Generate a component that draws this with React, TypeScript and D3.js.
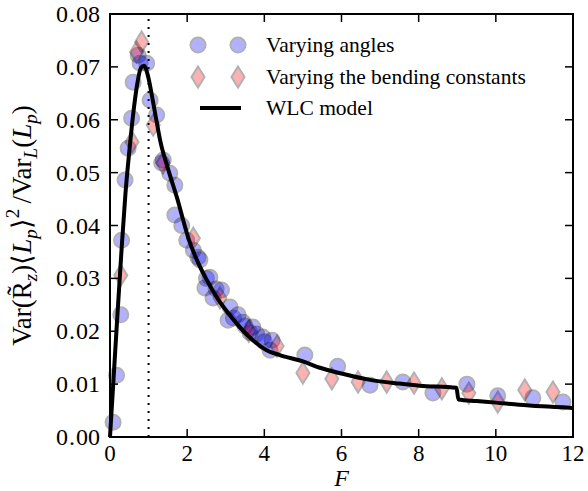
import * as d3 from 'd3';
import { useEffect, useRef } from 'react';

// WLC model curve
const WLC_F = [0, 0.1, 0.2, 0.3, 0.4, 0.5, 0.6, 0.7, 0.8, 0.88, 1.0, 1.1, 1.2, 1.3, 1.5, 1.73, 2.05, 2.25, 2.5, 2.76, 3.2, 3.6, 4.06, 4.4, 5.0, 5.44, 6.0, 6.74, 7.5, 8.03, 8.98, 9.03, 9.5, 10.0, 10.6, 11.2, 12.0];
const WLC_V = [0, 0.012, 0.024, 0.0355, 0.046, 0.054, 0.061, 0.0665, 0.0698, 0.0702, 0.0678, 0.064, 0.0600, 0.0561, 0.0508, 0.0454, 0.0372, 0.0335, 0.0298, 0.0265, 0.0222, 0.0190, 0.0164, 0.0155, 0.0143, 0.0131, 0.0120, 0.0108, 0.0101, 0.0097, 0.0093, 0.0071, 0.0068, 0.0065, 0.0061, 0.0058, 0.0055];

// "Varying angles" points
const ANG_F = [0.08, 0.17, 0.28, 0.30, 0.39, 0.47, 0.56, 0.60, 0.73, 0.78, 0.95, 1.04, 1.21, 1.34, 1.38, 1.55, 1.68, 1.68, 1.86, 1.99, 2.16, 2.28, 2.33, 2.46, 2.5, 2.59, 2.67, 2.75, 2.89, 3.06, 3.11, 3.2, 3.32, 3.45, 3.5, 3.63, 3.70, 3.8, 3.96, 4.0, 4.15, 4.20, 5.05, 5.90, 6.74, 7.59, 8.37, 9.25, 10.05, 10.96, 11.74];
const ANG_V = [0.0028, 0.0117, 0.0231, 0.0372, 0.0486, 0.0546, 0.0603, 0.0671, 0.0722, 0.0707, 0.0707, 0.0637, 0.0609, 0.0518, 0.0524, 0.0499, 0.0476, 0.0420, 0.0400, 0.0372, 0.0353, 0.0340, 0.0335, 0.0282, 0.0300, 0.0302, 0.0263, 0.0280, 0.0278, 0.0221, 0.0246, 0.0225, 0.0231, 0.0217, 0.0210, 0.0197, 0.0208, 0.0195, 0.0189, 0.0180, 0.0164, 0.0183, 0.0155, 0.0134, 0.0098, 0.0104, 0.0083, 0.0100, 0.0078, 0.0074, 0.0066];

// "Varying the bending constants" points
const BEND_F = [0.28, 0.57, 0.69, 0.82, 1.12, 1.37, 2.16, 2.85, 3.6, 4.33, 5.0, 5.75, 6.43, 7.17, 7.88, 8.60, 9.30, 10.05, 10.75, 11.48];
const BEND_V = [0.0306, 0.0558, 0.0728, 0.0747, 0.0590, 0.0518, 0.0376, 0.0263, 0.0200, 0.0172, 0.0121, 0.0110, 0.0104, 0.0104, 0.0102, 0.0091, 0.0083, 0.0066, 0.0089, 0.0085];

const X_TICKS = [0, 2, 4, 6, 8, 10, 12];
const Y_TICKS = [0, 0.01, 0.02, 0.03, 0.04, 0.05, 0.06, 0.07, 0.08];
const LEGEND = ['Varying angles', 'Varying the bending constants', 'WLC model'];

const W = 588, H = 491;
const M = { left: 110, right: 573, top: 14, bottom: 437 };
const FONT = "'Liberation Serif', 'Times New Roman', serif";

function diamond(cx: number, cy: number, w = 6.5, h = 10.5) {
  return `M${cx},${cy - h}L${cx + w},${cy}L${cx},${cy + h}L${cx - w},${cy}Z`;
}

export default function App() {
  const ref = useRef<SVGSVGElement>(null);

  useEffect(() => {
    const svg = d3.select(ref.current);
    svg.selectAll('*').remove();

    const x = d3.scaleLinear().domain([0, 12]).range([M.left, M.right]);
    const y = d3.scaleLinear().domain([0, 0.08]).range([M.bottom, M.top]);

    svg.append('rect').attr('width', W).attr('height', H).attr('fill', 'white');

    // dotted line at F = 1
    svg.append('line')
      .attr('x1', x(1)).attr('x2', x(1)).attr('y1', y(0)).attr('y2', y(0.08))
      .attr('stroke', 'black').attr('stroke-width', 2).attr('stroke-dasharray', '2,6');

    // circles
    svg.append('g').selectAll('circle').data(d3.range(ANG_F.length)).join('circle')
      .attr('cx', i => x(ANG_F[i])).attr('cy', i => y(ANG_V[i])).attr('r', 7.5)
      .attr('fill', 'blue').attr('stroke', 'black').attr('stroke-width', 2)
      .attr('opacity', 0.3);

    // diamonds
    svg.append('g').selectAll('path').data(d3.range(BEND_F.length)).join('path')
      .attr('d', i => diamond(x(BEND_F[i]), y(BEND_V[i])))
      .attr('fill', 'red').attr('stroke', 'black').attr('stroke-width', 2)
      .attr('opacity', 0.3);

    // WLC curve
    const line = d3.line<number>()
      .x(i => x(WLC_F[i])).y(i => y(WLC_V[i]))
      .curve(d3.curveMonotoneX);
    svg.append('path').attr('d', line(d3.range(WLC_F.length)))
      .attr('fill', 'none').attr('stroke', 'black').attr('stroke-width', 4)
      .attr('stroke-linejoin', 'round');

    // frame
    svg.append('rect')
      .attr('x', M.left).attr('y', M.top)
      .attr('width', M.right - M.left).attr('height', M.bottom - M.top)
      .attr('fill', 'none').attr('stroke', 'black').attr('stroke-width', 2);

    // ticks (inward, all four sides)
    const tl = 8;
    const tg = svg.append('g').attr('stroke', 'black').attr('stroke-width', 1.5);
    X_TICKS.forEach(t => {
      tg.append('line').attr('x1', x(t)).attr('x2', x(t)).attr('y1', M.bottom).attr('y2', M.bottom - tl);
      tg.append('line').attr('x1', x(t)).attr('x2', x(t)).attr('y1', M.top).attr('y2', M.top + tl);
    });
    Y_TICKS.forEach(t => {
      tg.append('line').attr('x1', M.left).attr('x2', M.left + tl).attr('y1', y(t)).attr('y2', y(t));
      tg.append('line').attr('x1', M.right).attr('x2', M.right - tl).attr('y1', y(t)).attr('y2', y(t));
    });

    const txt = svg.append('g').attr('font-family', FONT).attr('font-size', 23).attr('fill', 'black');
    X_TICKS.forEach(t => {
      txt.append('text').attr('x', x(t)).attr('y', M.bottom + 24).attr('text-anchor', 'middle').text(t);
    });
    Y_TICKS.forEach(t => {
      const s = d3.format('.2f')(t).split('.');
      const el = txt.append('text').attr('x', M.left - 10).attr('y', y(t) + 8)
        .attr('text-anchor', 'end').attr('font-size', 24);
      el.append('tspan').text(s[0]);
      el.append('tspan').attr('dx', 1).text('.');
      el.append('tspan').attr('dx', 1).text(s[1]);
    });

    // x label
    txt.append('text').attr('x', x(6)).attr('y', M.bottom + 49).attr('text-anchor', 'middle')
      .attr('font-size', 24).attr('font-style', 'italic').text('F');

    // y label
    const big = 27, small = 19;
    const yl = txt.append('text')
      .attr('font-size', big)
      .attr('transform', `translate(31,${(M.top + M.bottom) / 2}) rotate(-90)`)
      .attr('text-anchor', 'middle');
    yl.append('tspan').text('Var(R\u0303');
    yl.append('tspan').attr('font-size', small).attr('font-style', 'italic').attr('dy', 6).text('z');
    yl.append('tspan').attr('dy', -6).text(')\u27e8');
    yl.append('tspan').attr('font-style', 'italic').text('L');
    yl.append('tspan').attr('font-size', small).attr('font-style', 'italic').attr('dy', 6).text('p');
    yl.append('tspan').attr('dy', -6).text('\u27e9');
    yl.append('tspan').attr('font-size', small).attr('dy', -12).text('2');
    yl.append('tspan').attr('dy', 12).text('\u2009/Var');
    yl.append('tspan').attr('font-size', small).attr('font-style', 'italic').attr('dy', 6).text('L');
    yl.append('tspan').attr('dy', -6).text('(');
    yl.append('tspan').attr('font-style', 'italic').text('L');
    yl.append('tspan').attr('font-size', small).attr('font-style', 'italic').attr('dy', 6).text('p');
    yl.append('tspan').attr('dy', -6).text(')');

    // legend
    const lg = svg.append('g');
    const rows = [45, 77, 108];
    [198, 238].forEach(cx => {
      lg.append('circle').attr('cx', cx).attr('cy', rows[0]).attr('r', 7.5)
        .attr('fill', 'blue').attr('stroke', 'black').attr('stroke-width', 2).attr('opacity', 0.3);
      lg.append('path').attr('d', diamond(cx, rows[1]))
        .attr('fill', 'red').attr('stroke', 'black').attr('stroke-width', 2).attr('opacity', 0.3);
    });
    lg.append('line').attr('x1', 200).attr('x2', 241).attr('y1', rows[2]).attr('y2', rows[2])
      .attr('stroke', 'black').attr('stroke-width', 4);
    LEGEND.forEach((s, i) => {
      lg.append('text').attr('x', 266).attr('y', rows[i] + 7)
        .attr('font-family', FONT).attr('font-size', 21.5).text(s);
    });
  }, []);

  return (
    <svg ref={ref} width={W} height={H} style={{ display: 'block', position: 'absolute', left: 0, top: 0 }} />
  );
}
